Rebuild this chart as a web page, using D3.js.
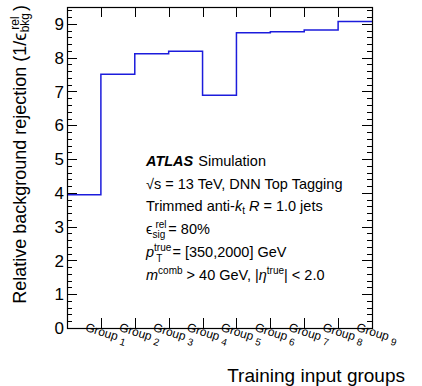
<!DOCTYPE html>
<html>
<head>
<meta charset="utf-8">
<script src="https://cdn.jsdelivr.net/npm/d3@7"></script>
<style>
  body { margin: 0; background: #fff; }
  text { font-family: "Liberation Sans", Arial, Helvetica, sans-serif; fill: #000; }
</style>
</head>
<body>
<div id="vis"></div>
<script>
// chart values
var groups = ["1", "2", "3", "4", "5", "6", "7", "8", "9"];
var rejection = [3.94, 7.51, 8.12, 8.19, 6.89, 8.74, 8.77, 8.82, 9.07];
var yTicks = [0, 1, 2, 3, 4, 5, 6, 7, 8, 9];

(function() {
    var width = 422, height = 386;
    var mLeft = 67, mRight = 372, mTop = 7, mBottom = 328;

    var svg = d3.select("#vis").append("svg")
        .attr("width", width)
        .attr("height", height);

    var x = d3.scaleLinear().domain([0, groups.length]).range([mLeft, mRight]);
    var y = d3.scaleLinear().domain([0, 9.5]).range([mBottom, mTop]);

    // y ticks, major + minor, left and mirrored on the right
    var minor = d3.range(0, 9.5001, 0.2);
    var tk = svg.append("g").attr("stroke", "#000").attr("stroke-width", 1);
    minor.forEach(function(v) {
        var isMajor = Math.abs(v - Math.round(v)) < 1e-6;
        var len = isMajor ? 10 : 5;
        var yy = Math.round(y(v)) + 0.5;
        tk.append("line").attr("x1", mLeft).attr("x2", mLeft + len).attr("y1", yy).attr("y2", yy);
        tk.append("line").attr("x1", mRight - len).attr("x2", mRight).attr("y1", yy).attr("y2", yy);
    });
    // x ticks at the bin edges, bottom and top
    d3.range(1, groups.length).forEach(function(i) {
        var xx = Math.round(x(i)) + 0.5;
        tk.append("line").attr("x1", xx).attr("x2", xx).attr("y1", mBottom).attr("y2", mBottom - 10);
        tk.append("line").attr("x1", xx).attr("x2", xx).attr("y1", mTop).attr("y2", mTop + 10);
    });

    // histogram
    var pts = [];
    rejection.forEach(function(v, i) {
        pts.push([x(i), y(v)]);
        pts.push([x(i + 1), y(v)]);
    });
    svg.append("path")
        .attr("d", d3.line()(pts))
        .attr("fill", "none")
        .attr("stroke", "#1c1cdc")
        .attr("stroke-width", 1.5);

    // frame
    svg.append("rect")
        .attr("x", mLeft + 0.5).attr("y", mTop + 0.5)
        .attr("width", mRight - mLeft).attr("height", mBottom - mTop)
        .attr("fill", "none").attr("stroke", "#000").attr("stroke-width", 1.2);

    // y tick labels
    svg.append("g").selectAll("text")
        .data(yTicks).enter().append("text")
        .attr("x", 64)
        .attr("y", function(d) { return y(d); })
        .attr("dy", "0.36em")
        .attr("text-anchor", "end")
        .style("font-size", "17px")
        .text(function(d) { return d; });

    // x labels, slanted
    groups.forEach(function(g, i) {
        var xx = x(i + 1) + 4, yy = 337;
        var t = svg.append("text")
            .attr("transform", "translate(" + xx + "," + yy + ") rotate(17)")
            .attr("text-anchor", "middle")
            .style("font-size", "12px");
        t.append("tspan").text("Group ");
        t.append("tspan").attr("dy", 3).style("font-size", "10px").text(g);
    });

    // axis titles
    svg.append("text")
        .attr("x", 405)
        .attr("y", 382)
        .attr("text-anchor", "end")
        .style("font-size", "19px")
        .text("Training input groups");

    var yt = svg.append("text")
        .attr("transform", "translate(26,5) rotate(-90)")
        .attr("text-anchor", "end")
        .style("font-size", "18px");
    yt.append("tspan").text("Relative background rejection (1/\u03f5");
    yt.append("tspan").attr("dx", 3).attr("dy", -7).style("font-size", "12px").text("rel");
    yt.append("tspan").attr("dx", -16).attr("dy", 10).style("font-size", "12px").text("bkg");
    yt.append("tspan").attr("dx", 2).attr("dy", -3).text(")");

    // label block
    var tx = 146, ty = 166, lh = 22.7;
    var l1 = svg.append("text").attr("x", tx).attr("y", ty).style("font-size", "14.5px");
    l1.append("tspan").style("font-weight", "bold").style("font-style", "italic").text("ATLAS");
    l1.append("tspan").attr("dx", 5).text("Simulation");

    svg.append("text").attr("x", tx).attr("y", ty + lh).style("font-size", "14.5px")
        .text("\u221as = 13 TeV, DNN Top Tagging");

    var l3 = svg.append("text").attr("x", tx).attr("y", ty + 2 * lh).style("font-size", "14.5px");
    l3.append("tspan").text("Trimmed anti-");
    l3.append("tspan").style("font-style", "italic").text("k");
    l3.append("tspan").attr("dy", 3).style("font-size", "10px").text("t");
    l3.append("tspan").attr("dy", -3).attr("dx", 4).style("font-style", "italic").text("R");
    l3.append("tspan").text(" = 1.0 jets");

    var l4 = svg.append("text").attr("x", tx).attr("y", ty + 3 * lh).style("font-size", "14.5px");
    l4.append("tspan").text("\u03f5");
    l4.append("tspan").attr("dx", 3).attr("dy", -6).style("font-size", "10px").text("rel");
    l4.append("tspan").attr("dx", -14).attr("dy", 10).style("font-size", "10px").text("sig");
    l4.append("tspan").attr("dx", 3).attr("dy", -4).text("= 80%");

    var l5 = svg.append("text").attr("x", tx).attr("y", ty + 4 * lh).style("font-size", "14.5px");
    l5.append("tspan").style("font-style", "italic").text("p");
    l5.append("tspan").attr("dy", -6).style("font-size", "10px").text("true");
    l5.append("tspan").attr("dx", -15).attr("dy", 11).style("font-size", "10px").text("T");
    l5.append("tspan").attr("dx", 10).attr("dy", -5).text("= [350,2000] GeV");

    var l6 = svg.append("text").attr("x", tx).attr("y", ty + 5 * lh).style("font-size", "14.5px");
    l6.append("tspan").style("font-style", "italic").text("m");
    l6.append("tspan").attr("dy", -6).style("font-size", "10px").text("comb");
    l6.append("tspan").attr("dy", 6).text(" > 40 GeV, |");
    l6.append("tspan").style("font-style", "italic").text("\u03b7");
    l6.append("tspan").attr("dy", -6).style("font-size", "10px").text("true");
    l6.append("tspan").attr("dy", 6).text("| < 2.0");
})();
</script>
</body>
</html>
